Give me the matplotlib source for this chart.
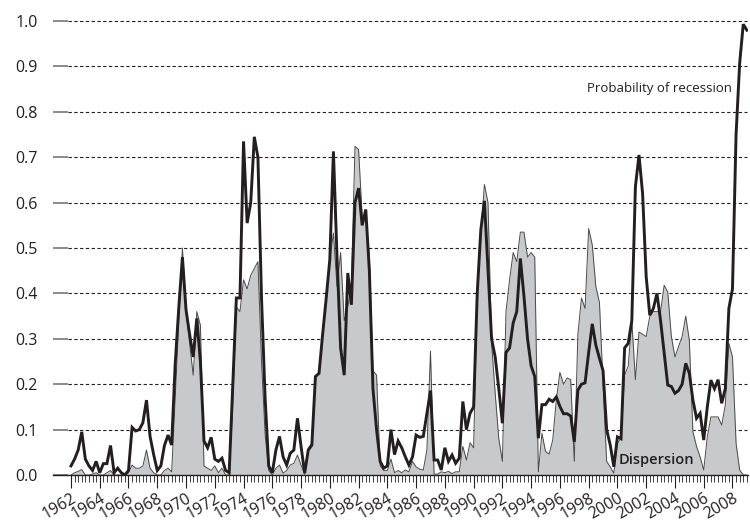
import matplotlib
matplotlib.use("Agg")
import matplotlib.pyplot as plt
import numpy as np

plt.rcParams['font.family'] = ['Open Sans', 'DejaVu Sans']

# Quarterly data, 1962Q1 .. 2009Q1
start_year = 1962
prob = [
    0.02, 0.035, 0.055, 0.095, 0.035, 0.02, 0.01, 0.03, 0.005, 0.025,
    0.025, 0.065, 0.005, 0.015, 0.005, 0.0, 0.01, 0.105, 0.097, 0.1,
    0.115, 0.165, 0.085, 0.045, 0.01, 0.02, 0.065, 0.088, 0.066, 0.246,
    0.37, 0.48, 0.364, 0.31, 0.26, 0.345, 0.25, 0.075, 0.06, 0.083,
    0.035, 0.03, 0.037, 0.01, 0.005, 0.2, 0.39, 0.39, 0.735, 0.555,
    0.6, 0.745, 0.7, 0.39, 0.17, 0.02, 0.005, 0.055, 0.085, 0.04,
    0.022, 0.048, 0.055, 0.125, 0.063, 0.004, 0.055, 0.066, 0.217, 0.224,
    0.31, 0.39, 0.475, 0.713, 0.48, 0.28, 0.22, 0.445, 0.375, 0.6,
    0.632, 0.55, 0.585, 0.45, 0.19, 0.1, 0.03, 0.015, 0.02, 0.1,
    0.045, 0.075, 0.06, 0.04, 0.022, 0.04, 0.088, 0.083, 0.085, 0.136,
    0.186, 0.033, 0.033, 0.011, 0.06, 0.03, 0.044, 0.026, 0.037, 0.162,
    0.1, 0.136, 0.15, 0.4, 0.54, 0.604, 0.45, 0.3, 0.26, 0.19,
    0.114, 0.27, 0.28, 0.335, 0.36, 0.477, 0.394, 0.3, 0.24, 0.217,
    0.081, 0.155, 0.155, 0.167, 0.162, 0.172, 0.151, 0.135, 0.135, 0.13,
    0.073, 0.187, 0.2, 0.203, 0.27, 0.333, 0.286, 0.257, 0.23, 0.1,
    0.066, 0.018, 0.084, 0.08, 0.28, 0.29, 0.34, 0.635, 0.705, 0.62,
    0.437, 0.352, 0.367, 0.4, 0.34, 0.268, 0.198, 0.195, 0.18, 0.186,
    0.2, 0.246, 0.224, 0.165, 0.125, 0.136, 0.077, 0.15, 0.209, 0.19,
    0.21, 0.158, 0.19, 0.367, 0.41, 0.75, 0.907, 0.993, 0.98,
]
disp = [
    0.0, 0.005, 0.008, 0.012, 0.0, 0.0, 0.002, 0.005, 0.0, 0.0,
    0.005, 0.01, 0.0, 0.0, 0.0, 0.0, 0.005, 0.022, 0.015, 0.015,
    0.02, 0.055, 0.015, 0.005, 0.0, 0.0, 0.01, 0.015, 0.007, 0.17,
    0.34, 0.5, 0.36, 0.29, 0.22, 0.36, 0.33, 0.02, 0.015, 0.01,
    0.02, 0.005, 0.015, 0.0, 0.0, 0.15, 0.37, 0.36, 0.43, 0.41,
    0.44, 0.455, 0.47, 0.25, 0.09, 0.01, 0.0, 0.015, 0.022, 0.004,
    0.01, 0.022, 0.026, 0.044, 0.022, 0.002, 0.059, 0.07, 0.217, 0.224,
    0.31, 0.393, 0.474, 0.533, 0.415, 0.49, 0.34, 0.37, 0.42, 0.724,
    0.717, 0.57, 0.57, 0.48, 0.23, 0.22, 0.02, 0.01, 0.01, 0.035,
    0.005, 0.01, 0.005, 0.011, 0.007, 0.03, 0.018, 0.013, 0.011, 0.055,
    0.273, 0.002, 0.002, 0.007, 0.005, 0.008, 0.003, 0.007, 0.007, 0.063,
    0.033, 0.071, 0.06, 0.4, 0.53, 0.64, 0.6, 0.29, 0.18, 0.08,
    0.03, 0.36, 0.43, 0.49, 0.47, 0.535, 0.535, 0.48, 0.49, 0.48,
    0.007, 0.092, 0.052, 0.046, 0.077, 0.166, 0.226, 0.2, 0.214, 0.21,
    0.03, 0.31, 0.39, 0.367, 0.543, 0.507, 0.415, 0.38, 0.2, 0.03,
    0.018, 0.004, 0.07, 0.08, 0.22, 0.24, 0.34, 0.21, 0.315, 0.31,
    0.305, 0.35, 0.36, 0.36, 0.36, 0.418, 0.403, 0.305, 0.26, 0.283,
    0.305, 0.35, 0.297, 0.095, 0.063, 0.04, 0.011, 0.084, 0.128, 0.128,
    0.128, 0.11, 0.154, 0.29, 0.26, 0.07, 0.011, 0.0, 0.0,
]
year_ticks = list(range(1962, 2009, 2))
y_ticks = [0.0, 0.1, 0.2, 0.3, 0.4, 0.5, 0.6, 0.7, 0.8, 0.9, 1.0]
label_prob = "Probability of recession"
label_disp = "Dispersion"

t = start_year + np.arange(len(prob)) / 4.0

W, H = 750, 525
fig = plt.figure(figsize=(W / 100, H / 100), dpi=100)
ax = fig.add_axes([53 / W, 50 / H, 695 / W, 463 / H])

ink = '#231f20'
ax.set_xlim(1960.75, 2009.08)
ax.set_ylim(0, 1.02)

# dashed grid lines (start a little right of the axis, after the tick marks)
ax.hlines(y_ticks[1:], 1961.8, 2009.0, colors=ink, linestyles=(0, (3, 2.2)),
          linewidth=0.8, zorder=1)

ax.fill_between(t, 0, disp, color='#c8c9cb', linewidth=0, zorder=2)
ax.plot(t, disp, color='#4a4a4a', linewidth=0.7, zorder=3)
ax.plot(t, prob, color=ink, linewidth=2.1, solid_joinstyle='miter', zorder=4)

for s in ['left', 'right', 'top']:
    ax.spines[s].set_visible(False)
ax.spines['bottom'].set_color(ink)
ax.spines['bottom'].set_linewidth(1.0)
ax.spines['bottom'].set_zorder(5)

ax.set_yticks(y_ticks)
ax.set_yticklabels([f"{v:.1f}" for v in y_ticks])
ax.tick_params(axis='y', direction='in', length=11, width=1.2, color='#777777',
               pad=11, labelsize=11.5, labelcolor=ink)

ax.set_xticks(year_ticks)
ax.set_xticklabels([str(y) for y in year_ticks], rotation=30, ha='right',
                   rotation_mode='anchor')
ax.set_xticks(start_year + np.arange(0, len(prob)) / 4.0, minor=True)
ax.tick_params(axis='x', which='major', direction='out', length=9, width=0.8,
               color=ink, pad=2, labelsize=11.5, labelcolor=ink)
ax.tick_params(axis='x', which='minor', direction='out', length=5, width=0.6,
               color=ink)

ax.text(2007.97, 0.852, label_prob, ha='right', va='center', fontsize=9.5,
        color=ink, zorder=6)
ax.text(2000.06, 0.033, label_disp, ha='left', va='center', fontsize=10.5,
        fontweight='semibold', color=ink, zorder=6)

fig.savefig('out.png', dpi=100)
